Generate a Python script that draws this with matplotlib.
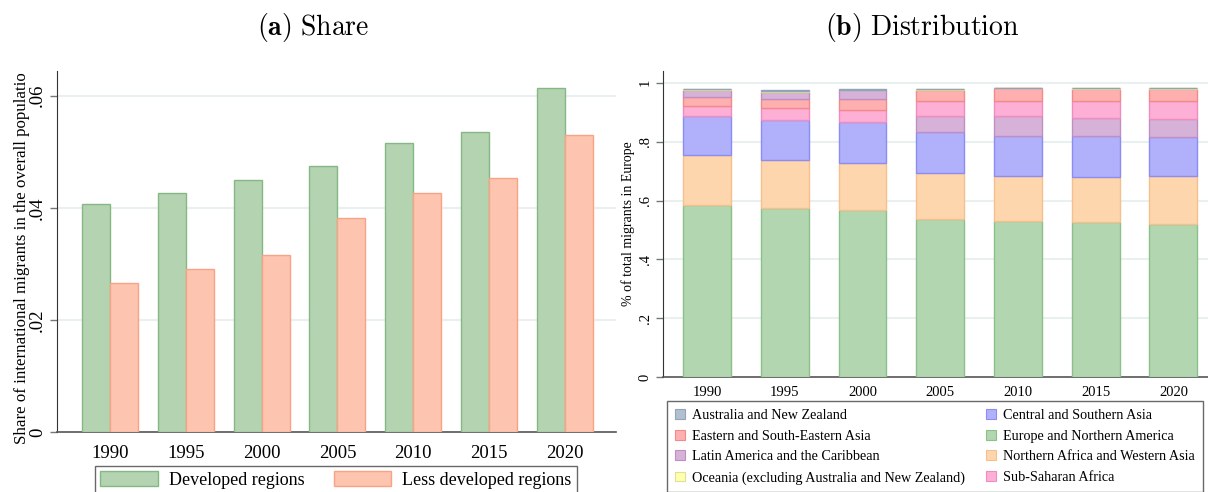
import matplotlib
matplotlib.use("Agg")
import matplotlib.pyplot as plt
from matplotlib.patches import Patch
import numpy as np

plt.rcParams["mathtext.fontset"] = "cm"
plt.rcParams["font.family"] = ["Liberation Serif", "DejaVu Serif"]

W, H = 1208, 492

years = ["1990", "1995", "2000", "2005", "2010", "2015", "2020"]

# Panel (a): share of international migrants in the overall population
developed = [0.0407, 0.0427, 0.0449, 0.0475, 0.0516, 0.0536, 0.0614]
less_developed = [0.0265, 0.0290, 0.0315, 0.0381, 0.0427, 0.0454, 0.0529]

# Panel (b): distribution of migrants in Europe by region of origin
europe_n_america = [0.585, 0.574, 0.568, 0.537, 0.532, 0.526, 0.520]
n_africa_w_asia = [0.169, 0.164, 0.160, 0.158, 0.150, 0.154, 0.162]
c_s_asia = [0.133, 0.135, 0.138, 0.139, 0.138, 0.139, 0.134]
sub_saharan = [0.034, 0.040, 0.043, 0.049, 0.053, 0.057, 0.060]
e_se_asia = [0.031, 0.032, 0.035, 0.039, 0.042, 0.043, 0.042]
latin_america = [0.023, 0.025, 0.030, 0.054, 0.066, 0.061, 0.062]
oceania_other = [0.0025, 0.0025, 0.0025, 0.0025, 0.0012, 0.0012, 0.0018]
aus_nz = [0.0015, 0.0015, 0.0015, 0.0015, 0.0008, 0.0008, 0.0012]

regions = [
    ("Australia and New Zealand", aus_nz, "#b2bfd0", "#93a3ba"),
    ("Central and Southern Asia", c_s_asia, "#b1b1fb", "#8c8cf2"),
    ("Eastern and South-Eastern Asia", e_se_asia, "#feb0b0", "#f28a8a"),
    ("Europe and Northern America", europe_n_america, "#b2d6b0", "#8cc08a"),
    ("Latin America and the Caribbean", latin_america, "#d6b2d8", "#bf8fc2"),
    ("Northern Africa and Western Asia", n_africa_w_asia, "#fed6ae", "#f6c08e"),
    ("Oceania (excluding Australia and New Zealand)", oceania_other, "#ffffb0", "#e0e090"),
    ("Sub-Saharan Africa", sub_saharan, "#feafd6", "#f08cc0"),
]

fig = plt.figure(figsize=(W / 100, H / 100), dpi=100)

grid_col = "#e9f0f0"
axis_col = "#555555"

# ---------------- Panel (a) ----------------
axL = fig.add_axes([57 / W, 1 - 432 / H, (616 - 57) / W, (432 - 71) / H])
x = np.arange(len(years))
bw = 0.37
axL.bar(x - bw / 2, developed, bw, color="#b3d3b1", edgecolor="#86b886", linewidth=1.0,
        label="Developed regions", zorder=3)
axL.bar(x + bw / 2, less_developed, bw, color="#fdc4b0", edgecolor="#f9a386", linewidth=1.0,
        label="Less developed regions", zorder=3)
axL.set_xlim(-0.70, 6.675)
axL.set_ylim(0, 0.0644)
yt = [0, 0.02, 0.04, 0.06]
axL.set_yticks(yt)
axL.set_yticklabels(["0", ".02", ".04", ".06"], rotation=90, va="center", fontsize=13.5)
axL.set_xticks(x)
axL.set_xticklabels(years, fontsize=13.5)
axL.tick_params(axis="x", length=0, pad=9)
axL.tick_params(axis="y", length=5, width=1, color="#777777", pad=3)
for v in yt[1:]:
    axL.axhline(v, color=grid_col, lw=1.5, zorder=0)
axL.spines["top"].set_visible(False)
axL.spines["right"].set_visible(False)
axL.spines["left"].set_color("#333333")
axL.spines["bottom"].set_color(axis_col)
axL.spines["bottom"].set_linewidth(1.2)
fig.text(22 / W, 1 - 258 / H, "Share of international migrants in the overall populatio",
         rotation=90, ha="center", va="center", fontsize=12.2)
legL = axL.legend(loc="upper left", bbox_to_anchor=(95 / W, 1 - 466 / H), bbox_transform=fig.transFigure,
                  ncol=2, frameon=True, fancybox=False, fontsize=13, handlelength=3.2,
                  handleheight=0.9, columnspacing=1.6, handletextpad=0.6,
                  borderpad=0.3, borderaxespad=0)
legL.get_frame().set_edgecolor("#444444")
legL.get_frame().set_linewidth(1.0)

fig.text(313 / W, 1 - 28 / H, r"$\mathbf{(a)}\ \mathrm{Share}$", ha="center", va="center", fontsize=20)

# ---------------- Panel (b) ----------------
axR = fig.add_axes([663 / W, 1 - 377.3 / H, (1208 - 663) / W, (377.3 - 70.7) / H])
rbw = 0.617
for i in range(len(years)):
    order = sorted(range(len(regions)), key=lambda k: -regions[k][1][i])
    bottom = 0.0
    for k in order:
        name, vals, fc, ec = regions[k]
        axR.bar(i, vals[i], rbw, bottom=bottom, color=fc, edgecolor=ec, linewidth=1.0, zorder=3)
        bottom += vals[i]
axR.set_xlim(-0.566, 6.444)
axR.set_ylim(0, 1.041)
rt = [0, 0.2, 0.4, 0.6, 0.8, 1.0]
axR.set_yticks(rt)
axR.set_yticklabels(["0", ".2", ".4", ".6", ".8", "1"], rotation=90, va="center", fontsize=10.5)
axR.set_xticks(range(len(years)))
axR.set_xticklabels(years, fontsize=10.5)
axR.tick_params(axis="x", length=0, pad=6)
axR.tick_params(axis="y", length=5, width=1, color="#777777", pad=3)
for v in rt[1:]:
    axR.axhline(v, color=grid_col, lw=1.5, zorder=0)
axR.spines["top"].set_visible(False)
axR.spines["right"].set_visible(False)
axR.spines["left"].set_color("#333333")
axR.spines["bottom"].set_color(axis_col)
axR.spines["bottom"].set_linewidth(1.2)
axR.set_ylabel("% of total migrants in Europe", fontsize=10, labelpad=3)

col1 = [0, 2, 4, 6]
col2 = [1, 3, 5, 7]
handles = []
labels = []
for k in col1 + col2:
    name, vals, fc, ec = regions[k]
    handles.append(Patch(facecolor=fc, edgecolor=ec, linewidth=0.8))
    labels.append(name)
legR = axR.legend(handles, labels, loc="upper left", bbox_to_anchor=(667 / W, 1 - 401 / H),
                  bbox_transform=fig.transFigure, ncol=2, frameon=True, fancybox=False,
                  fontsize=10.2, handlelength=0.7, handleheight=0.7, columnspacing=1.5,
                  handletextpad=0.5, labelspacing=0.55, borderpad=0.55, borderaxespad=0)
legR.get_frame().set_edgecolor("#444444")
legR.get_frame().set_linewidth(1.0)

fig.text(922 / W, 1 - 28 / H, r"$\mathbf{(b)}\ \mathrm{Distribution}$", ha="center", va="center", fontsize=20)

fig.savefig("out.png", dpi=100)
